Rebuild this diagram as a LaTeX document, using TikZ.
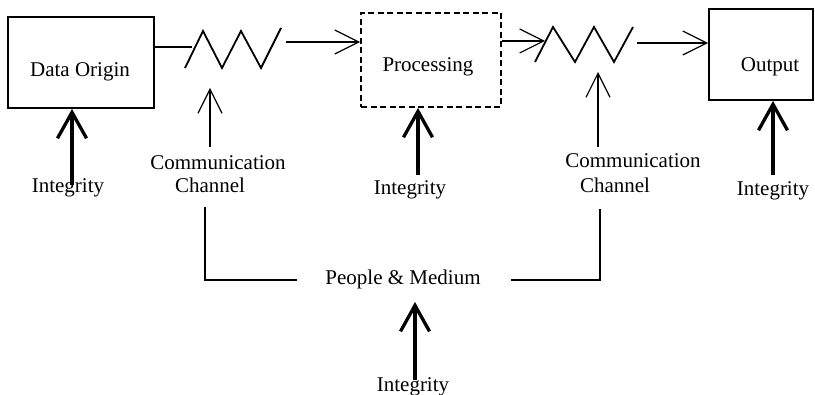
\documentclass[tikz,border=0pt]{standalone}
\usepackage{fontspec}
\setmainfont{Liberation Serif}
\usetikzlibrary{arrows.meta}
\begin{document}
\begin{tikzpicture}[x=1pt,y=-1pt,
  txt/.style={font=\fontsize{21}{25}\selectfont, inner sep=0pt, anchor=base},
  box/.style={draw, line width=1.8pt, inner sep=0pt},
  thinline/.style={line width=1.2pt},
  flow/.style={thinline, -{Straight Barb[length=24pt,width=24pt]}},
  integ/.style={line width=3.3pt, -{Straight Barb[length=26pt,width=29pt]}},
  zig/.style={line width=1.8pt, line join=miter}]
\useasboundingbox (0,0) rectangle (815,395);

% boxes
\node[box, minimum width=146pt, minimum height=91pt] (orig) at (81,62.5) {};
\node[txt] (origt) at (80,77) {Data Origin};
\node[box, dashed, dash pattern=on 6pt off 3.5pt, minimum width=140pt, minimum height=94pt] (proc) at (431,60) {};
\node[txt] (proct) at (428,72) {Processing};
\node[box, minimum width=104pt, minimum height=91pt] (out) at (761,54.5) {};
\node[txt] (outt) at (770,72) {Output};

% zigzags (communication channels)
\draw[zig] (185,68) coordinate (z1s) -- (203,31) -- (222,68) -- (241,31) -- (261,68) -- (281,28) coordinate (z1e);
\draw[zig] (535,62) coordinate (z2s) -- (553,27) -- (575,62) -- (594,27) -- (614,62) -- (633,27) coordinate (z2e);

% flow
\coordinate (z1in) at (192,47);
\coordinate (z1out) at (286,42);
\coordinate (z2in) at (545,41);
\coordinate (z2out) at (637,43);
\draw[thinline] (orig.east |- z1in) -- (z1in);
\draw[flow] (z1out) -- (z1out -| proc.west);
\draw[flow] (proc.east |- z2in) -- (z2in);
\draw[flow] (z2out) -- (z2out -| out.west);

% communication channel labels
\node[txt] (cc1a) at (218,170) {Communication};
\node[txt] (cc1b) at (210,193) {Channel};
\node[txt] (cc2a) at (633,168) {Communication};
\node[txt] (cc2b) at (615,193) {Channel};
\coordinate (c1s) at (210,147);
\coordinate (c1e) at (210,88);
\coordinate (c2s) at (598,147);
\coordinate (c2e) at (598,72);
\draw[flow] (c1s) -- (c1e);
\draw[flow] (c2s) -- (c2e);

% integrity labels
\node[txt] (i1) at (68,193) {Integrity};
\node[txt] (i2) at (410,195) {Integrity};
\node[txt] (i3) at (773,196) {Integrity};
\node[txt] (i4) at (413,392) {Integrity};
\coordinate (i1s) at (72,185);
\coordinate (i2s) at (418,175);
\coordinate (i3s) at (773,175);
\coordinate (i4s) at (415,380);
\draw[integ] (i1s) -- (i1s |- orig.south);
\draw[integ] (i2s) -- (i2s |- proc.south);
\draw[integ] (i3s) -- (i3s |- out.south);
\coordinate (i4e) at (415,302);
\draw[integ] (i4s) -- (i4e);

% people & medium
\node[txt] (pm) at (403,285) {People \& Medium};
\coordinate (pl) at (205,207);
\coordinate (pr) at (600,209);
\draw[thinline] (pl) |- ([xshift=-28pt]pm.west);
\draw[thinline] (pr) |- ([xshift=30pt]pm.east);
\end{tikzpicture}
\end{document}
